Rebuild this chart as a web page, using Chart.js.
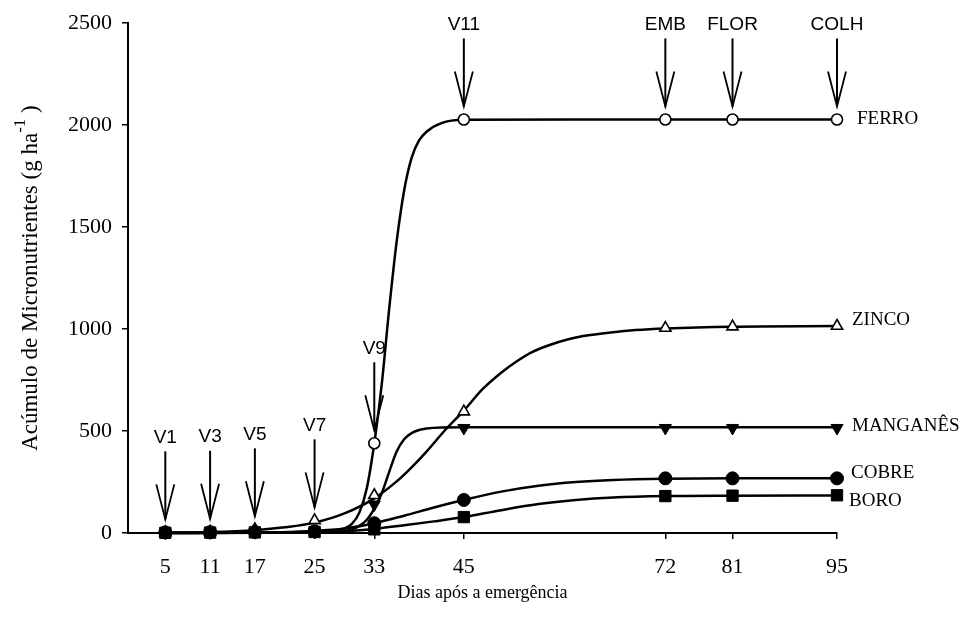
<!DOCTYPE html>
<html>
<head>
<meta charset="utf-8">
<script src="https://cdn.jsdelivr.net/npm/chart.js@4.4.1/dist/chart.umd.min.js"></script>
<style>
  html, body { margin: 0; padding: 0; background: #fff; }
  #wrap { width: 968px; height: 628px; position: relative; }
</style>
</head>
<body>
<div id="wrap"><canvas id="grafico"></canvas></div>
<script>
// Dias de coleta e estádios fenológicos
const dias = [5, 11, 17, 25, 33, 45, 72, 81, 95];
const estadios = ['V1', 'V3', 'V5', 'V7', 'V9', 'V11', 'EMB', 'FLOR', 'COLH'];

// Acúmulo observado (g/ha)
const ferro    = [3, 4, 6, 8, 440, 2028, 2028, 2028, 2028];
const zinco    = [3, 6, 18, 62, 185, 595, 1005, 1012, 1015];
const manganes = [2, 3, 4, 6, 140, 515, 515, 515, 515];
const cobre    = [3, 4, 5, 8, 48, 162, 268, 268, 268];
const boro     = [1, 2, 3, 5, 18, 78, 181, 183, 185];

// Curvas ajustadas
const ferroAjX = [5, 15, 22, 26, 28, 29, 30, 31, 32, 33, 34, 35, 36, 37, 38, 39, 40, 42, 45, 60, 95];
const ferroAjY = [0, 1, 3, 7, 12, 22, 45, 100, 220, 440, 730, 1100, 1430, 1680, 1840, 1925, 1968, 2010, 2026, 2028, 2028];

const zincoAjX = [5, 11, 17, 21, 25, 29, 33, 36, 38, 40, 42.5, 45, 47.5, 50, 52, 54, 56.5, 59, 61, 65, 68, 72, 81, 95];
const zincoAjY = [2, 5, 14, 28, 51, 96, 170, 253, 322, 399, 505, 600, 705, 786, 840, 885, 922, 950, 966, 985, 995, 1003, 1012, 1015];

const manganesAjX = [5, 20, 27, 29, 30, 31, 32, 33, 34, 35, 36, 37, 38, 39, 40, 42, 45, 95];
const manganesAjY = [0, 1, 4, 10, 18, 35, 65, 120, 195, 300, 400, 460, 490, 505, 512, 517, 518, 518];

const cobreAjX = [5, 15, 20, 25, 29, 33, 37, 41, 45, 50, 55, 60, 65, 72, 81, 95];
const cobreAjY = [1, 2, 4, 10, 22, 48, 85, 125, 162, 203, 232, 250, 260, 266, 268, 268];

const boroAjX = [5, 15, 20, 25, 29, 33, 37, 41, 45, 50, 55, 60, 65, 72, 81, 95];
const boroAjY = [0, 1, 2, 4, 9, 20, 38, 57, 78, 112, 142, 162, 174, 181, 183, 184];

const nomes = ['FERRO', 'ZINCO', 'MANGANÊS', 'COBRE', 'BORO'];

const serif = '"Liberation Serif", "Times New Roman", serif';
const sans = '"Liberation Sans", Arial, sans-serif';

function pares(xs, ys) {
    return xs.map((x, i) => ({ x: x, y: ys[i] }));
}

function curva(xs, ys) {
    return {
        type: 'line',
        data: pares(xs, ys),
        borderColor: '#000',
        borderWidth: 2.5,
        pointRadius: 0,
        fill: false,
        clip: false,
        order: 10,
        cubicInterpolationMode: 'monotone'
    };
}

// ordem menor fica por cima
function pontos(ys, estilo, raio, preenchido, ordem, rot) {
    return {
        type: 'scatter',
        data: pares(dias, ys),
        showLine: false,
        clip: false,
        order: ordem,
        pointStyle: estilo,
        pointRadius: raio,
        pointRotation: rot || 0,
        pointBackgroundColor: preenchido ? '#000' : '#fff',
        pointBorderColor: '#000',
        pointBorderWidth: preenchido ? 1 : 1.6
    };
}

// setas dos estádios, rótulos das curvas e títulos dos eixos
const anotacoes = {
    id: 'anotacoes',
    afterDatasetsDraw(chart) {
        const ctx = chart.ctx;
        const xs = chart.scales.x;
        const ys = chart.scales.y;
        const series = [ferro, zinco, manganes, cobre, boro];

        ctx.save();
        ctx.strokeStyle = '#000';
        ctx.fillStyle = '#000';

        // setas
        dias.forEach((d, i) => {
            const x = xs.getPixelForValue(d);
            const topo = Math.max(...series.map(s => s[i]));
            const ponta = ys.getPixelForValue(topo) - 13;
            const inicio = ponta - 68;
            ctx.lineWidth = 2;
            ctx.beginPath();
            ctx.moveTo(x, inicio);
            ctx.lineTo(x, ponta);
            ctx.stroke();
            ctx.lineWidth = 1.8;
            ctx.beginPath();
            ctx.moveTo(x - 9, ponta - 35);
            ctx.lineTo(x, ponta);
            ctx.lineTo(x + 9, ponta - 35);
            ctx.stroke();
            ctx.font = '19px ' + sans;
            ctx.textAlign = 'center';
            ctx.textBaseline = 'middle';
            ctx.fillText(estadios[i], x, inicio - 14);
        });

        // nomes das curvas
        const dx = [20, 15, 15, 14, 12];
        const dy = [0, -6, -2, -5, 6];
        ctx.font = '19px ' + serif;
        ctx.textAlign = 'left';
        ctx.textBaseline = 'middle';
        series.forEach((s, k) => {
            const x = xs.getPixelForValue(dias[dias.length - 1]) + dx[k];
            const y = ys.getPixelForValue(s[s.length - 1]) + dy[k];
            ctx.fillText(nomes[k], x, y);
        });

        // título do eixo x
        const area = chart.chartArea;
        ctx.textAlign = 'center';
        ctx.font = '18px ' + serif;
        ctx.fillText('Dias após a emergência', (area.left + area.right) / 2, 593);

        // título do eixo y com expoente
        ctx.translate(31, (area.top + area.bottom) / 2);
        ctx.rotate(-Math.PI / 2);
        const t1 = 'Acúmulo de Micronutrientes (g ha';
        const t2 = '-1';
        const t3 = ' )';
        ctx.font = '23px ' + serif;
        const w1 = ctx.measureText(t1).width;
        const w3 = ctx.measureText(t3).width;
        ctx.font = '17px ' + serif;
        const w2 = ctx.measureText(t2).width;
        let px = -(w1 + w2 + w3) / 2;
        ctx.textAlign = 'left';
        ctx.font = '23px ' + serif;
        ctx.fillText(t1, px, 0);
        px += w1;
        ctx.font = '17px ' + serif;
        ctx.fillText(t2, px, -10);
        px += w2;
        ctx.font = '23px ' + serif;
        ctx.fillText(t3, px, 0);
        ctx.restore();
    }
};

new Chart(document.getElementById('grafico'), {
    type: 'scatter',
    data: {
        datasets: [
            curva(ferroAjX, ferroAjY),
            curva(zincoAjX, zincoAjY),
            curva(manganesAjX, manganesAjY),
            curva(cobreAjX, cobreAjY),
            curva(boroAjX, boroAjY),
            pontos(ferro, 'circle', 5.5, false, 5),
            pontos(zinco, 'triangle', 6.5, false, 4),
            pontos(manganes, 'triangle', 7, true, 3, 180),
            pontos(cobre, 'circle', 6.5, true, 1),
            pontos(boro, 'rect', 8, true, 2)
        ]
    },
    options: {
        responsive: true,
        maintainAspectRatio: false,
        animation: false,
        layout: { padding: { left: 0, right: 131, top: 23, bottom: 0 } },
        plugins: {
            legend: { display: false },
            tooltip: { enabled: false }
        },
        scales: {
            x: {
                type: 'linear',
                min: 0,
                max: 95,
                afterBuildTicks: (scale) => {
                    scale.ticks = dias.map(v => ({ value: v }));
                },
                afterFit: (scale) => { scale.height = 95; },
                border: { color: '#000', width: 2 },
                grid: { drawOnChartArea: false, drawTicks: true, tickLength: 6, color: '#000', lineWidth: 1.5 },
                ticks: {
                    autoSkip: false,
                    maxRotation: 0,
                    padding: 15,
                    color: '#000',
                    font: { family: serif, size: 22 },
                    callback: (v) => String(v)
                }
            },
            y: {
                min: 0,
                max: 2500,
                afterFit: (scale) => { scale.width = 128; },
                border: { color: '#000', width: 2 },
                grid: { drawOnChartArea: false, drawTicks: true, tickLength: 6, color: '#000', lineWidth: 1.5 },
                ticks: {
                    stepSize: 500,
                    padding: 10,
                    color: '#000',
                    font: { family: serif, size: 22 },
                    callback: (v) => String(v)
                }
            }
        }
    },
    plugins: [anotacoes]
});
</script>
</body>
</html>
